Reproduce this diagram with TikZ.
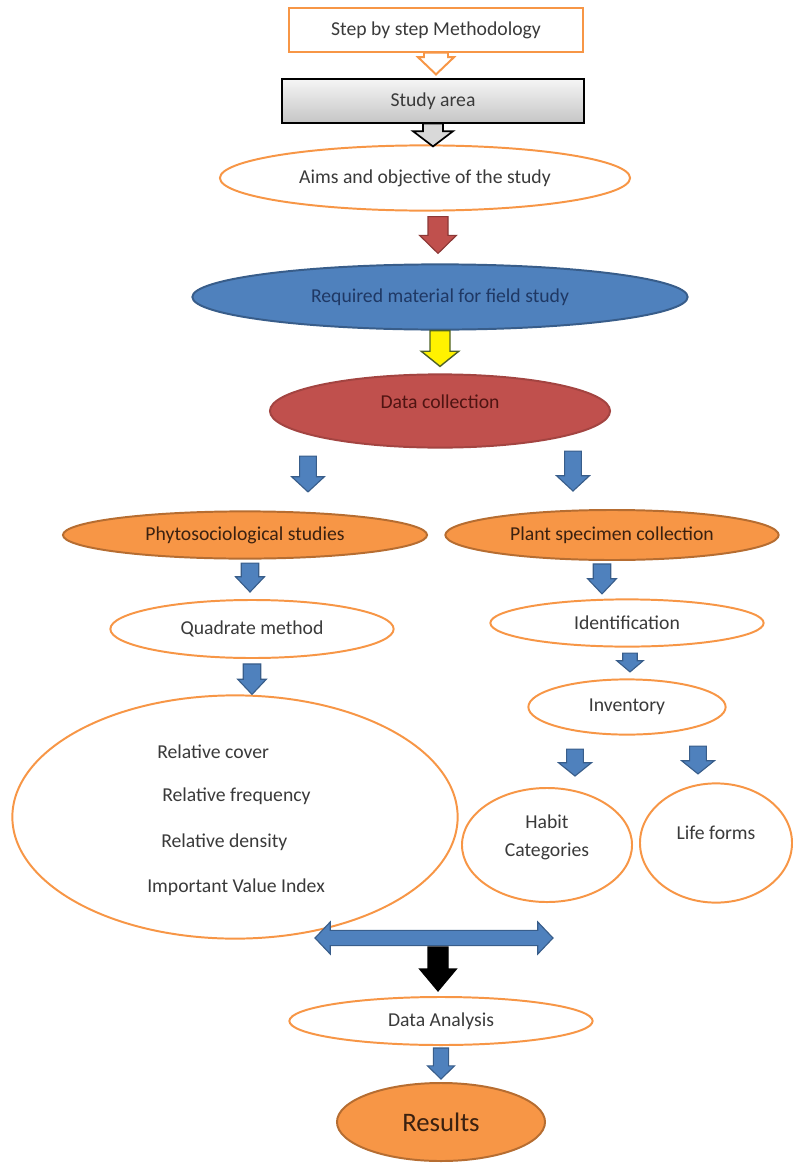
\documentclass[tikz,border=0pt]{standalone}
\usepackage{fontspec}
\setmainfont{Carlito}
\usetikzlibrary{calc}
\usetikzlibrary{shapes.geometric}
\definecolor{lineorange}{HTML}{F79646}
\definecolor{darkorange}{HTML}{B66D31}
\definecolor{boxblue}{HTML}{4F81BD}
\definecolor{edgeblue}{HTML}{385D8A}
\definecolor{boxred}{HTML}{C0504D}
\definecolor{edgered}{HTML}{8C3836}
\definecolor{edgeolive}{HTML}{4F6228}
\definecolor{textgray}{HTML}{3A3A3A}
\definecolor{textbrown}{HTML}{3B2110}
\definecolor{textnavy}{HTML}{1F3864}
\definecolor{textred}{HTML}{4F1412}
\tikzset{txt/.style={font=\fontsize{14}{17}\selectfont, text=textgray}}
\tikzset{plainbox/.style={txt, rectangle, draw=lineorange, line width=1.4pt, fill=white, inner sep=0pt}}
\tikzset{plainoval/.style={txt, ellipse, draw=lineorange, line width=1.4pt, fill=white, inner sep=0pt}}
\tikzset{orangeoval/.style={plainoval, fill=lineorange, draw=darkorange, text=textbrown}}
\tikzset{downarrow/.style n args={3}{to path={let \p1=(\tikztostart), \p2=(\tikztotarget) in
  (\x1-#1,\y1) -- (\x1+#1,\y1) -- (\x1+#1,\y2+#3) -- (\x1+#2,\y2+#3) -- (\x1,\y2)
  -- (\x1-#2,\y2+#3) -- (\x1-#1,\y2+#3) -- cycle}}}
\tikzset{twoway/.style n args={3}{to path={let \p1=(\tikztostart), \p2=(\tikztotarget) in
  (\x1,\y1) -- (\x1+#3,\y1+#2) -- (\x1+#3,\y1+#1) -- (\x2-#3,\y1+#1) -- (\x2-#3,\y1+#2) -- (\x2,\y1)
  -- (\x2-#3,\y1-#2) -- (\x2-#3,\y1-#1) -- (\x1+#3,\y1-#1) -- (\x1+#3,\y1-#2) -- cycle}}}
\tikzset{bluearrow/.style={fill=boxblue, draw=edgeblue, line width=0.8pt, line join=miter}}

\begin{document}
\begin{tikzpicture}[x=0.025cm, y=-0.025cm]
\useasboundingbox (0,0) rectangle (793,1163);

\node[plainbox, minimum width=7.33cm, minimum height=1.08cm] (step) at (436,30) {Step by step Methodology};
\node[txt, draw=black, line width=1.4pt, top color=gray!8, bottom color=gray!45, minimum width=7.55cm, minimum height=1.08cm, inner sep=0pt] (study) at (433,101) {Study area};
\node[plainoval, minimum width=10.25cm, minimum height=1.63cm] (aims) at (425,178) {Aims and objective of the study};
\node[plainoval, fill=boxblue, draw=edgeblue, text=textnavy, minimum width=12.38cm, minimum height=1.63cm] (req) at (440,297) {Required material for field study};
\node[plainoval, fill=boxred, draw=boxred!85!black, text=textred, text depth=0.45cm, minimum width=8.5cm, minimum height=1.83cm] (dc) at (440,411) {Data collection};

\node[orangeoval, minimum width=9.1cm, minimum height=1.18cm] (phyto) at (245,535) {Phytosociological studies};
\node[orangeoval, minimum width=8.33cm, minimum height=1.25cm] (plant) at (612,535) {Plant specimen collection};
\node[plainoval, minimum width=7.08cm, minimum height=1.45cm] (quad) at (252,629) {Quadrate method};
\node[plainoval, minimum width=6.83cm, minimum height=1.18cm] (ident) at (627,623) {Identification};
\node[plainoval, minimum width=4.93cm, minimum height=1.38cm] (inv) at (627,707) {Inventory};

\node[plainoval, minimum width=11.13cm, minimum height=6.08cm] (rel) at (235,817) {};
\node[txt, anchor=west, inner sep=0pt] (cover) at ($(rel.center)+(-78,-65)$) {Relative cover};
\node[txt, anchor=west, inner sep=0pt] (freq) at ($(rel.center)+(-73,-21)$) {Relative frequency};
\node[txt, anchor=west, inner sep=0pt] (dens) at ($(rel.center)+(-74,25)$) {Relative density};
\node[txt, anchor=west, inner sep=0pt] (ivi) at ($(rel.center)+(-88,70)$) {Important Value Index};

\node[plainoval, minimum width=4.25cm, minimum height=2.85cm] (habit) at (547,845) {};
\node[txt, align=center, inner sep=0pt] (habittext) at ($(habit.center)+(0,-8)$) {Habit\\[3pt]Categories};
\node[plainoval, text depth=0.5cm, minimum width=3.8cm, minimum height=2.98cm] (life) at (716,843) {Life forms};

\node[plainoval, minimum width=7.58cm, minimum height=1.2cm] (da) at (441,1021) {Data Analysis};
\node[orangeoval, font=\fontsize{19}{23}\selectfont, minimum width=5.2cm, minimum height=1.95cm] (res) at (441,1122) {Results};

\coordinate (mergeL) at (315,938);
\coordinate (mergeR) at (553,938);
\coordinate (mergeM) at (438,938);

\draw[fill=white, draw=lineorange, line width=1.4pt, downarrow={0.3cm}{0.45cm}{0.43cm}] (step.south) to ($(step.south |- study.north)+(0,-4)$);
\draw[fill=gray!30, draw=black, line width=1.2pt, downarrow={0.25cm}{0.5cm}{0.38cm}] (study.south) to ($(study.south |- aims.north)+(0,2)$);
\draw[fill=boxred, draw=edgered, line width=0.8pt, downarrow={0.25cm}{0.46cm}{0.45cm}] ($(aims.south)+(13,5)$) to ($(aims.south |- req.north)+(13,-10)$);
\draw[fill=yellow, draw=edgeolive, line width=1pt, downarrow={0.25cm}{0.47cm}{0.38cm}] (req.south) to ($(req.south |- dc.north)+(0,-7)$);

\draw[bluearrow, downarrow={0.21cm}{0.41cm}{0.38cm}] ($(dc.south)+(-132,7.5)$) to ($(dc.south |- phyto.north)+(-132,-18.5)$);
\draw[bluearrow, downarrow={0.21cm}{0.41cm}{0.38cm}] ($(dc.south)+(133,2.5)$) to ($(dc.south |- plant.north)+(133,-18)$);
\draw[bluearrow, downarrow={0.22cm}{0.36cm}{0.38cm}] ($(phyto.south)+(5,3.5)$) to ($(phyto.south |- quad.north)+(5,-7)$);
\draw[bluearrow, downarrow={0.22cm}{0.36cm}{0.38cm}] ($(plant.south)+(-10,3)$) to ($(plant.south |- ident.north)+(-10,-4.5)$);
\draw[bluearrow, downarrow={0.22cm}{0.36cm}{0.38cm}] ($(quad.south)+(0,5)$) to (quad.south |- rel.north);
\draw[bluearrow, downarrow={0.18cm}{0.33cm}{0.28cm}] ($(ident.south)+(3,5.5)$) to ($(ident.south |- inv.north)+(3,-6.5)$);
\draw[bluearrow, downarrow={0.21cm}{0.41cm}{0.33cm}] ($(inv.south)+(-52,13.5)$) to ($(inv.south |- habit.north)+(-52,-11)$);
\draw[bluearrow, downarrow={0.21cm}{0.41cm}{0.33cm}] ($(inv.south)+(71,10.5)$) to ($(inv.south |- life.north)+(71,-8.5)$);

\draw[bluearrow, twoway={0.19cm}{0.4cm}{0.38cm}] (mergeL) to (mergeR);
\draw[fill=black, draw=black, line width=0.8pt, downarrow={0.25cm}{0.46cm}{0.55cm}] ($(mergeM)+(0,9)$) to ($(mergeM |- da.north)+(0,-5)$);
\draw[bluearrow, downarrow={0.19cm}{0.34cm}{0.33cm}] ($(da.south)+(0,2)$) to ($(res.north)+(0,-3)$);

\end{tikzpicture}
\end{document}
